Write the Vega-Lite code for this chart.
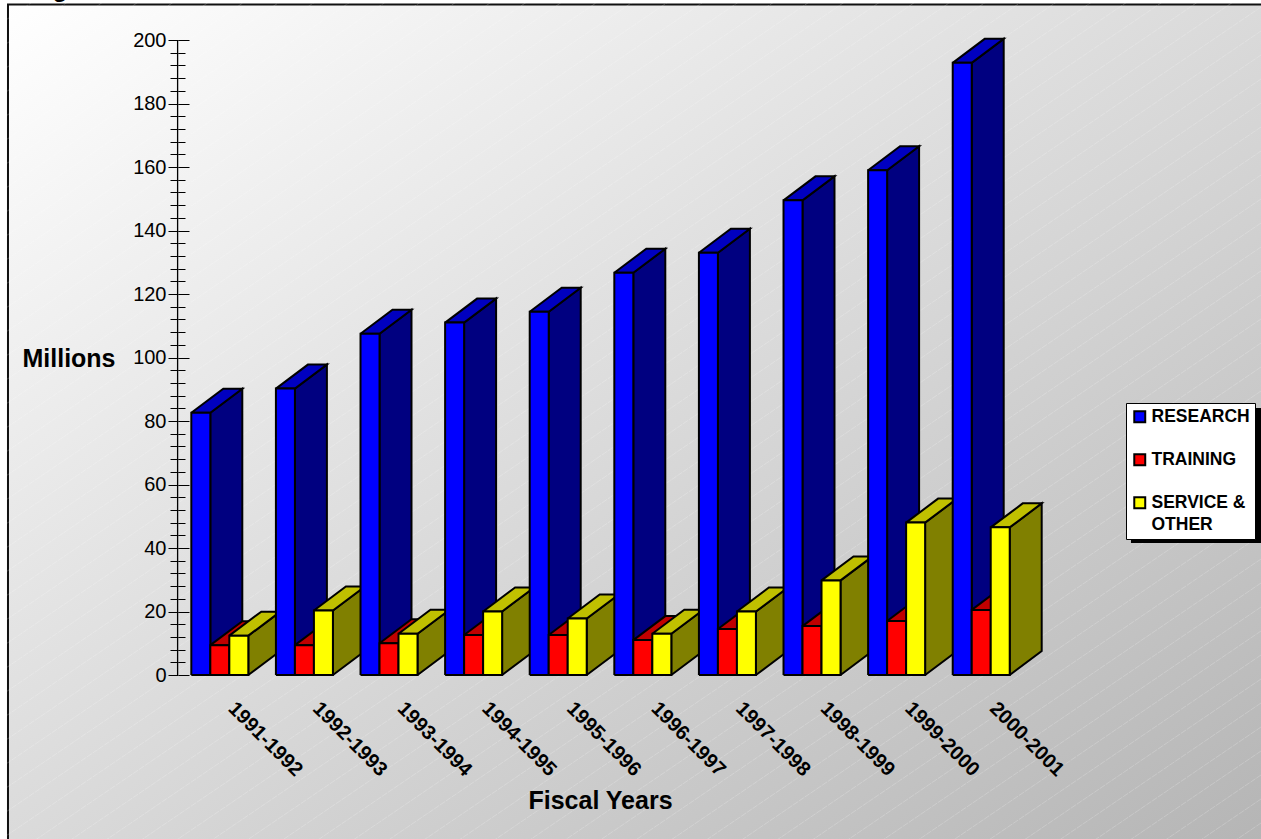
{"$schema":"https://vega.github.io/schema/vega-lite/v6.json","width":1261,"height":839,"padding":0,"autosize":{"type":"none"},"background":"white","view":{"stroke":null},"config":{"font":"Liberation Sans"},
"resolve":{"axis":{"y":"independent","x":"independent"}},
"layer":[
{"data":{"values":[{"panel":"background"}]},"mark":{"type":"rect","stroke":"#111111","strokeWidth":2,"fill":{"gradient":"linear","x1":0,"y1":0,"x2":1,"y2":1,"stops":[{"offset":0,"color":"#ffffff"},{"offset":1,"color":"#b4b4b4"}]}},
"encoding":{"x":{"datum":-1.577,"type":"quantitative","axis":null,"scale":{"domain":[-1.6714,13.234],"nice":false,"zero":false}},"x2":{"datum":13.5},"y":{"datum":211.18,"type":"quantitative","axis":null,"scale":{"domain":[-51.65,212.6],"nice":false,"zero":false}},"y2":{"datum":-56}}},
{"data":{"values":[{"c":24},{"c":48},{"c":72},{"c":96},{"c":120},{"c":144},{"c":168},{"c":192},{"c":216},{"c":240},{"c":264},{"c":288},{"c":312},{"c":336},{"c":360},{"c":384},{"c":408},{"c":432},{"c":456},{"c":480},{"c":504},{"c":528},{"c":552},{"c":576},{"c":600},{"c":624},{"c":648},{"c":672},{"c":696},{"c":720},{"c":744},{"c":768},{"c":792},{"c":816},{"c":840},{"c":864},{"c":888},{"c":912},{"c":936},{"c":960},{"c":984},{"c":1008},{"c":1032},{"c":1056},{"c":1080},{"c":1104},{"c":1128},{"c":1152},{"c":1176},{"c":1200},{"c":1224},{"c":1248},{"c":1272},{"c":1296},{"c":1320},{"c":1344},{"c":1368},{"c":1392},{"c":1416},{"c":1440},{"c":1464},{"c":1488},{"c":1512},{"c":1536},{"c":1560},{"c":1584},{"c":1608},{"c":1632},{"c":1656},{"c":1680}]},
"transform":[{"calculate":"(675-datum.c)/3.175","as":"y1"},{"calculate":"(675-datum.c+857)/3.175","as":"y2"}],
"mark":{"type":"rule","stroke":"white","strokeWidth":0.8,"opacity":0.25,"strokeDash":[6,1],"clip":true},
"encoding":{"x":{"datum":-1.6714,"type":"quantitative","axis":null,"scale":{"domain":[-1.6714,13.234],"nice":false,"zero":false}},"x2":{"datum":13.234},"y":{"field":"y1","type":"quantitative","axis":null,"scale":{"domain":[-51.65,212.6],"nice":false,"zero":false}},"y2":{"field":"y2"}}},
{"data":{"values":[{"panel":"legend shadow"}]},"mark":{"type":"rect","fill":"black"},
"encoding":{"x":{"datum":11.697,"type":"quantitative","axis":null,"scale":{"domain":[-1.6714,13.234],"nice":false,"zero":false}},"x2":{"datum":13.3},"y":{"datum":84.09,"type":"quantitative","axis":null,"scale":{"domain":[-51.65,212.6],"nice":false,"zero":false}},"y2":{"datum":41.57}}},
{"data":{"values":[
{"year":"1991-1992","slot":1,"series":"RESEARCH","value":82.6},{"year":"1991-1992","slot":1,"series":"TRAINING","value":9.4},{"year":"1991-1992","slot":1,"series":"SERVICE & OTHER","value":12.4},
{"year":"1992-1993","slot":2,"series":"RESEARCH","value":90.2},{"year":"1992-1993","slot":2,"series":"TRAINING","value":9.4},{"year":"1992-1993","slot":2,"series":"SERVICE & OTHER","value":20.3},
{"year":"1993-1994","slot":3,"series":"RESEARCH","value":107.5},{"year":"1993-1994","slot":3,"series":"TRAINING","value":10},{"year":"1993-1994","slot":3,"series":"SERVICE & OTHER","value":13},
{"year":"1994-1995","slot":4,"series":"RESEARCH","value":111},{"year":"1994-1995","slot":4,"series":"TRAINING","value":12.6},{"year":"1994-1995","slot":4,"series":"SERVICE & OTHER","value":20},
{"year":"1995-1996","slot":5,"series":"RESEARCH","value":114.4},{"year":"1995-1996","slot":5,"series":"TRAINING","value":12.6},{"year":"1995-1996","slot":5,"series":"SERVICE & OTHER","value":17.8},
{"year":"1996-1997","slot":6,"series":"RESEARCH","value":126.7},{"year":"1996-1997","slot":6,"series":"TRAINING","value":11},{"year":"1996-1997","slot":6,"series":"SERVICE & OTHER","value":13},
{"year":"1997-1998","slot":7,"series":"RESEARCH","value":133},{"year":"1997-1998","slot":7,"series":"TRAINING","value":14.5},{"year":"1997-1998","slot":7,"series":"SERVICE & OTHER","value":20},
{"year":"1998-1999","slot":8,"series":"RESEARCH","value":149.5},{"year":"1998-1999","slot":8,"series":"TRAINING","value":15.4},{"year":"1998-1999","slot":8,"series":"SERVICE & OTHER","value":29.8},
{"year":"1999-2000","slot":9,"series":"RESEARCH","value":159},{"year":"1999-2000","slot":9,"series":"TRAINING","value":17},{"year":"1999-2000","slot":9,"series":"SERVICE & OTHER","value":48},
{"year":"2000-2001","slot":10,"series":"RESEARCH","value":192.8},{"year":"2000-2001","slot":10,"series":"TRAINING","value":20.5},{"year":"2000-2001","slot":10,"series":"SERVICE & OTHER","value":46.5}
]},
"transform":[
{"calculate":"datum.slot-0.41+indexof(['RESEARCH','TRAINING','SERVICE & OTHER'],datum.series)*0.2246","as":"xL"},
{"calculate":"datum.xL+0.2246","as":"xR"},
{"calculate":"[['side',0,datum.xR,0],['side',1,datum.xR+0.378,7.56],['side',2,datum.xR+0.378,datum.value+7.56],['side',3,datum.xR,datum.value],['side',4,datum.xR,0],['top',0,datum.xL,datum.value],['top',1,datum.xR,datum.value],['top',2,datum.xR+0.378,datum.value+7.56],['top',3,datum.xL+0.378,datum.value+7.56],['top',4,datum.xL,datum.value],['front',0,datum.xL,0],['front',1,datum.xR,0],['front',2,datum.xR,datum.value],['front',3,datum.xL,datum.value],['front',4,datum.xL,0]]","as":"verts"},
{"flatten":["verts"]},
{"calculate":"datum.verts[0]","as":"face"},
{"calculate":"datum.verts[1]","as":"k"},
{"calculate":"datum.verts[2]","as":"xv"},
{"calculate":"datum.verts[3]","as":"yv"},
{"calculate":"datum.face=='front'?datum.series:datum.series+' '+datum.face","as":"part"},
{"calculate":"datum.year+' '+datum.series+' '+datum.face","as":"poly"}
],
"mark":{"type":"line","stroke":"black","strokeWidth":2,"strokeJoin":"miter","interpolate":"linear"},
"encoding":{
"x":{"field":"xv","type":"quantitative","scale":{"domain":[-1.6714,13.234],"nice":false,"zero":false},
"axis":{"values":[1,2,3,4,5,6,7,8,9,10],"labelExpr":"(1990+datum.value)+'-'+(1991+datum.value)","orient":"bottom","offset":-164,"domain":false,"ticks":false,"grid":false,"labelAngle":45,"labelAlign":"left","labelBaseline":"middle","labelPadding":30,"labelOffset":5,"labelFontSize":20,"labelFontWeight":"bold","labelColor":"black","labelOverlap":false,"labelBound":false,"labelFlush":false,"title":"Fiscal Years","titleFontSize":25,"titleFontWeight":"bold","titleColor":"black","titleX":600,"titleY":125,"titleAlign":"center","titleBaseline":"middle","zindex":1}},
"y":{"field":"yv","type":"quantitative","scale":{"domain":[-51.65,212.6],"nice":false,"zero":false},
"axis":{"values":[0,4,8,12,16,20,24,28,32,36,40,44,48,52,56,60,64,68,72,76,80,84,88,92,96,100,104,108,112,116,120,124,128,132,136,140,144,148,152,156,160,164,168,172,176,180,184,188,192,196,200],"labelExpr":"datum.value%20===0?datum.value:''","orient":"left","offset":-178,"domain":false,"grid":false,"tickColor":"black","tickSize":{"condition":{"test":"datum.value%20===0","value":10},"value":8},"labelPadding":2,"labelFontSize":20,"labelColor":"black","labelOverlap":false,"labelBound":false,"labelFlush":false,"title":"Millions","titleFontSize":25,"titleFontWeight":"bold","titleColor":"black","titleAngle":0,"titleX":-109.5,"titleY":358,"titleAlign":"center","titleBaseline":"middle","zindex":1}},
"order":{"field":"k","type":"quantitative"},
"detail":{"field":"poly"},
"fill":{"field":"part","type":"nominal","sort":null,
"scale":{"domain":["RESEARCH","TRAINING","SERVICE & OTHER","RESEARCH side","RESEARCH top","TRAINING side","TRAINING top","SERVICE & OTHER side","SERVICE & OTHER top"],"range":["#0000ff","#ff0000","#ffff00","#000080","#0000c0","#800000","#c00000","#808000","#c0c000"]},
"legend":{"values":["RESEARCH","TRAINING","SERVICE & OTHER"],"title":null,"orient":"none","legendX":1126,"legendY":403,"fillColor":"white","strokeColor":"black","symbolType":"square","symbolSize":120,"symbolStrokeColor":"black","symbolStrokeWidth":2,"labelFontSize":17.5,"labelFontWeight":"bold","labelColor":"black","labelLimit":200,"labelOffset":3,"rowPadding":23,"padding":5,"labelExpr":"datum.label==='SERVICE & OTHER'?['SERVICE &','OTHER']:datum.label","encode":{"labels":{"update":{"lineHeight":{"value":22}}}}}}
}},
{"data":{"values":[{"text":"Figure"}]},"mark":{"type":"rule","stroke":"black","strokeWidth":1.3},
"encoding":{"x":{"datum":0.428,"type":"quantitative","axis":null,"scale":{"domain":[-1.6714,13.234],"nice":false,"zero":false}},
"y":{"datum":0,"type":"quantitative","scale":{"domain":[-51.65,212.6],"nice":false,"zero":false},
"axis":{"values":[0,4,8,12,16,20,24,28,32,36,40,44,48,52,56,60,64,68,72,76,80,84,88,92,96,100,104,108,112,116,120,124,128,132,136,140,144,148,152,156,160,164,168,172,176,180,184,188,192,196,200],"orient":"right","offset":-1083,"domain":false,"grid":false,"labels":false,"title":null,"tickColor":"black","tickSize":{"condition":{"test":"datum.value%20===0","value":11},"value":7},"zindex":1}},"y2":{"datum":200}}},
{"data":{"values":[{"text":"Figure"}]},"mark":{"type":"text","align":"left","baseline":"alphabetic","fontSize":24,"fontWeight":"bold","color":"black"},
"encoding":{"text":{"field":"text"},"x":{"datum":-1.30,"type":"quantitative","axis":null,"scale":{"domain":[-1.6714,13.234],"nice":false,"zero":false}},"y":{"datum":213.7,"type":"quantitative","axis":null,"scale":{"domain":[-51.65,212.6],"nice":false,"zero":false}}}}
]}
